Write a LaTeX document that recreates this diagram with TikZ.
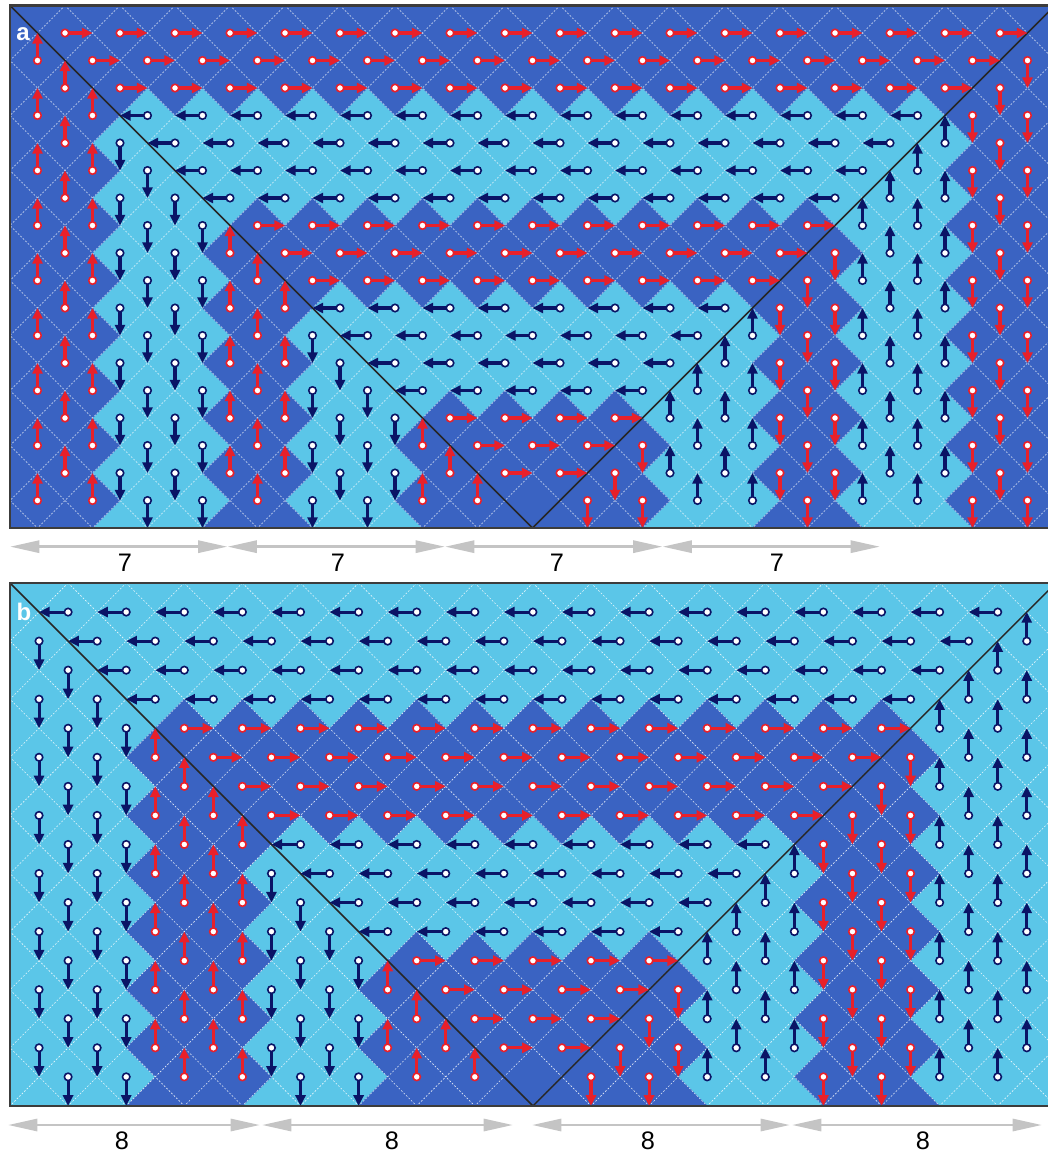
\documentclass[tikz,border=0pt]{standalone}
\usepackage{fontspec}
\setmainfont{Liberation Sans}
\usetikzlibrary{arrows.meta}
\definecolor{dkb}{HTML}{3A63C2}
\definecolor{ltb}{HTML}{5BC6E8}
\definecolor{spr}{HTML}{E8202A}
\definecolor{spn}{HTML}{0A1466}
\definecolor{frm}{HTML}{3C3C3C}
\definecolor{gar}{HTML}{C4C4C4}
\tikzset{
 gridln/.style={white, line width=0.45pt, dash pattern=on 1.3pt off 1.3pt, opacity=0.85},
 diag/.style={draw=black!85, line width=1.1pt},
 spinarrow/.style={line width=2.3pt, -{Triangle[length=8pt,width=7.5pt]}},
 spindot/.style={fill=white, line width=1.2pt},
 frame/.style={draw=frm, line width=2pt},
 dimarrow/.style={draw=gar, line width=2.2pt, {Triangle[length=22pt,width=9pt]}-{Triangle[length=22pt,width=9pt]}},
 lbl/.style={font=\fontsize{19}{19}\selectfont, text=black, inner sep=0pt},
 plabel/.style={font=\bfseries\fontsize{18}{18}\selectfont, text=white, inner sep=0pt}
}
% #1 x0, #2 y0, #3 unit, #4 W, #5 H, #6 dark test (uses \dd)
\newcommand\spinpanel[6]{%
\begin{scope}[shift={(#1,#2)}, x=#3, y=-#3]
 \pgfmathtruncatemacro\Wm{#4-1}
 \pgfmathtruncatemacro\Hm{#5-1}
 \begin{scope}
  \clip (0,0) rectangle (#4,#5);
  \fill[ltb] (0,0) rectangle (#4,#5);
  \foreach \i in {0,...,#4} {
   \foreach \j in {0,...,#5} {
    \pgfmathtruncatemacro\pp{mod(\i+\j,2)}
    \ifnum\pp=1
     \pgfmathtruncatemacro\dd{min(\i,\j,#4-\i)}
     \pgfmathtruncatemacro\dk{#6}
     \ifnum\dk=1
      \filldraw[dkb, line width=0.3pt] (\i-1,\j) -- (\i,\j-1) -- (\i+1,\j) -- (\i,\j+1) -- cycle;
     \fi
    \fi
   }
  }
  \foreach \m in {-20,-18,...,60} {
   \draw[gridln] (\m,0) -- ++(#5,#5);
   \draw[gridln] (\m,0) -- ++(-#5,#5);
  }
  \draw[diag] (0,0) -- (#5,#5) -- (#4,0);
  \foreach \i in {1,...,\Wm} {
   \foreach \j in {1,...,\Hm} {
    \pgfmathtruncatemacro\pp{mod(\i+\j,2)}
    \pgfmathtruncatemacro\apex{(\i==#5)&&(\j==#5-1)}
    \ifnum\pp=1 \ifnum\apex=0
     \pgfmathtruncatemacro\dd{min(\i,\j,#4-\i)}
     \pgfmathtruncatemacro\dk{#6}
     \ifnum\i<\j
      \ifnum\dk=1 \def\ddx{0}\def\ddy{-1}\def\spc{spr}\else \def\ddx{0}\def\ddy{1}\def\spc{spn}\fi
     \else
      \pgfmathtruncatemacro\ssum{\i+\j}
      \ifnum\ssum<#4
       \ifnum\dk=1 \def\ddx{1}\def\ddy{0}\def\spc{spr}\else \def\ddx{-1}\def\ddy{0}\def\spc{spn}\fi
      \else
       \ifnum\dk=1 \def\ddx{0}\def\ddy{1}\def\spc{spr}\else \def\ddx{0}\def\ddy{-1}\def\spc{spn}\fi
      \fi
     \fi
     \draw[spinarrow, draw=\spc, fill=\spc] (\i,\j) -- ++(\ddx,\ddy);
     \filldraw[spindot, draw=\spc] (\i,\j) circle[radius=2.8pt];
    \fi \fi
   }
  }
 \end{scope}
 \draw[frame] (0,0) rectangle (#4,#5);
\end{scope}}
\begin{document}
\begin{tikzpicture}
\useasboundingbox (0,0) rectangle (786pt,-867pt);
\fill[white] (0,0) rectangle (786pt,-867pt);
% panel a
\spinpanel{7.5pt}{-4.125pt}{20.625pt}{38}{19}{(\dd==0)||(\dd>=18)||((mod(\dd,7)>=1)&&(mod(\dd,7)<=3))}
% panel b
\spinpanel{7.5pt}{-437.25pt}{21.7875pt}{36}{18}{(\dd>=17)||((\dd>=5)&&(mod(\dd-1,8)>=4))}
\node[plabel] (la) at (17.25pt,-25.5pt) {a};
\node[plabel] (lb) at (18pt,-459pt) {b};
% dimension arrows panel a
\coordinate (a0) at (7.5pt,-410pt);
\coordinate (a1) at (170.6pt,-410pt);
\coordinate (a2) at (333.75pt,-410pt);
\coordinate (a3) at (496.9pt,-410pt);
\coordinate (a4) at (660pt,-410pt);
\draw[dimarrow] (a0) -- (a1);
\draw[dimarrow] (a1) -- (a2);
\draw[dimarrow] (a2) -- (a3);
\draw[dimarrow] (a3) -- (a4);
\node[lbl] (na1) at (93.75pt,-422.25pt) {7};
\node[lbl] (na2) at (253.5pt,-422.25pt) {7};
\node[lbl] (na3) at (417.75pt,-422.25pt) {7};
\node[lbl] (na4) at (582.75pt,-422.25pt) {7};
% dimension arrows panel b
\coordinate (b0) at (6pt,-843.75pt);
\coordinate (b1) at (195pt,-843.75pt);
\coordinate (b2) at (196.5pt,-843.75pt);
\coordinate (b3) at (384.75pt,-843.75pt);
\coordinate (b4) at (399pt,-843.75pt);
\coordinate (b5) at (592.5pt,-843.75pt);
\coordinate (b6) at (594pt,-843.75pt);
\coordinate (b7) at (781.5pt,-843.75pt);
\draw[dimarrow] (b0) -- (b1);
\draw[dimarrow] (b2) -- (b3);
\draw[dimarrow] (b4) -- (b5);
\draw[dimarrow] (b6) -- (b7);
\node[lbl] (nb1) at (91.5pt,-855.75pt) {8};
\node[lbl] (nb2) at (294pt,-855.75pt) {8};
\node[lbl] (nb3) at (486pt,-855.75pt) {8};
\node[lbl] (nb4) at (692.25pt,-855.75pt) {8};
\end{tikzpicture}
\end{document}
